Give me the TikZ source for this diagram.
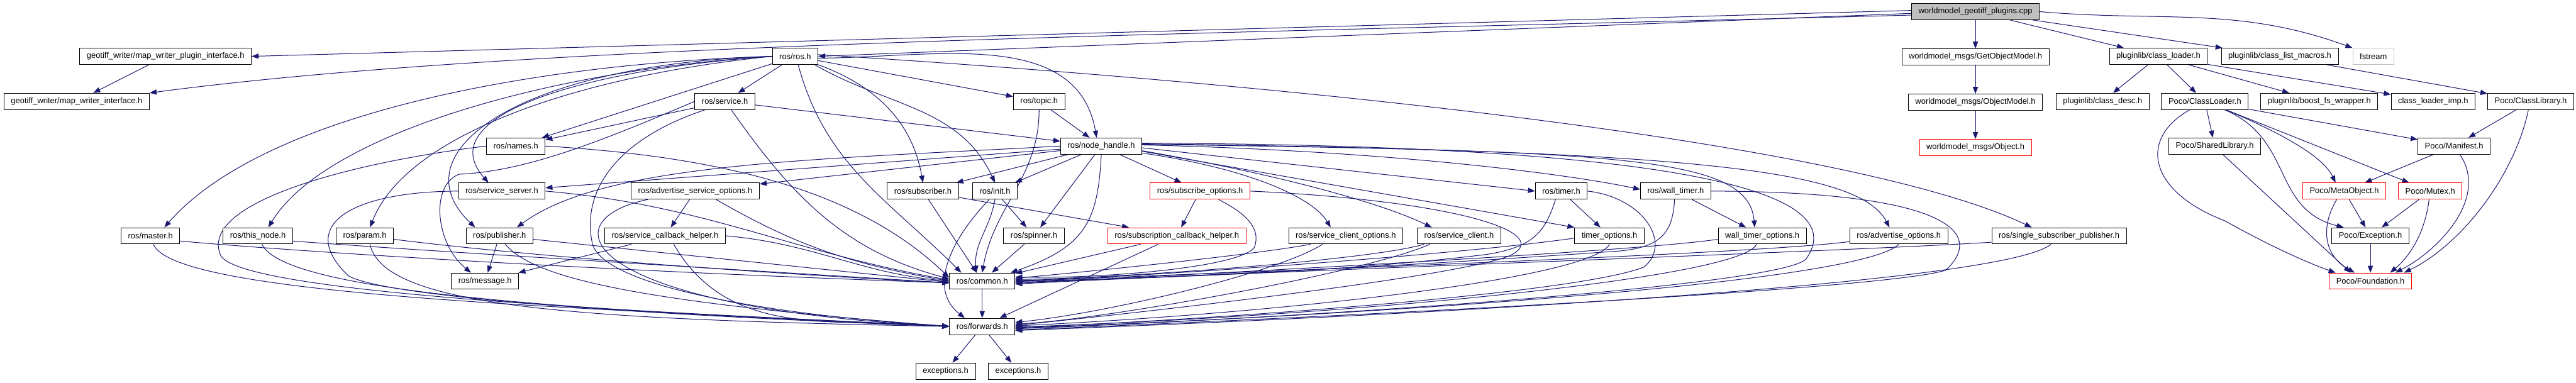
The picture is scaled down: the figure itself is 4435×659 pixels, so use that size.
\documentclass[tikz,border=0pt]{standalone}
\usepackage{fontspec}
\setmainfont{Liberation Sans}
\usepackage{tikz}
\usetikzlibrary{positioning,arrows.meta,backgrounds}
\definecolor{edgeblue}{HTML}{191970}

\begin{document}
\begin{tikzpicture}[
  x=1pt, y=-1pt,
  >={Triangle[length=12pt,width=9pt]},
  node distance=49pt,
  file/.style={rectangle, draw=black, line width=1pt, fill=white, minimum height=28pt, inner xsep=12pt, inner ysep=0pt, font=\fontsize{14}{16}\selectfont},
  hot/.style={file, draw=red},
  src/.style={file, fill=gray!50},
  sys/.style={file, draw=gray!50},
  dep/.style={->, draw=edgeblue, line width=1.1pt}
]
\useasboundingbox (0,0) rectangle (4435,659);

\node[src] (cpp) at (3401,20) {worldmodel\_geotiff\_plugins.cpp};

\node[file] (mwpi) at (285,97) {geotiff\_writer/map\_writer\_plugin\_interface.h};
\node[file] (ros) at (1369,97) {ros/ros.h};
\node[file, below=of cpp] (gom) {worldmodel\_msgs/GetObjectModel.h};
\node[file] (pcl) at (3716,97) {pluginlib/class\_loader.h};
\node[file] (pclm) at (3925,97) {pluginlib/class\_list\_macros.h};
\node[sys] (fstream) at (4086,97) {fstream};

\node[file] (mwi) at (132,174.5) {geotiff\_writer/map\_writer\_interface.h};
\node[file] (service) at (1248,174.5) {ros/service.h};
\node[file] (topic) at (1789,174.5) {ros/topic.h};
\node[file, below=of gom] (om) {worldmodel\_msgs/ObjectModel.h};
\node[file] (desc) at (3620,174.5) {pluginlib/class\_desc.h};
\node[file] (pcload) at (3796,174.5) {Poco/ClassLoader.h};
\node[file] (bfs) at (3993,174.5) {pluginlib/boost\_fs\_wrapper.h};
\node[file] (imp) at (4189,174.5) {class\_loader\_imp.h};
\node[file] (plib) at (4357,174.5) {Poco/ClassLibrary.h};

\node[file] (names) at (888,251.5) {ros/names.h};
\node[file] (nh) at (1896,251.5) {ros/node\_handle.h};
\node[hot, below=of om] (obj) {worldmodel\_msgs/Object.h};
\node[file] (shlib) at (3813,251.5) {Poco/SharedLibrary.h};
\node[file] (manifest) at (4225,251.5) {Poco/Manifest.h};

\node[file] (srvserver) at (864,329) {ros/service\_server.h};
\node[file] (aso) at (1197,329) {ros/advertise\_service\_options.h};
\node[file] (subscriber) at (1589,329) {ros/subscriber.h};
\node[file] (init) at (1713,329) {ros/init.h};
\node[hot] (subopt) at (2066,329) {ros/subscribe\_options.h};
\node[file] (timer) at (2688,329) {ros/timer.h};
\node[file] (walltimer) at (2885,329) {ros/wall\_timer.h};
\node[hot] (meta) at (4036,329) {Poco/MetaObject.h};
\node[hot] (mutex) at (4184,329) {Poco/Mutex.h};

\node[file] (master) at (259,406) {ros/master.h};
\node[file] (thisnode) at (444,406) {ros/this\_node.h};
\node[file] (param) at (628,406) {ros/param.h};
\node[file] (publisher) at (860,406) {ros/publisher.h};
\node[file] (sch) at (1145,406) {ros/service\_callback\_helper.h};
\node[file] (spinner) at (1780,406) {ros/spinner.h};
\node[hot] (subcbh) at (2026,406) {ros/subscription\_callback\_helper.h};
\node[file] (sco) at (2317,406) {ros/service\_client\_options.h};
\node[file] (sclient) at (2512,406) {ros/service\_client.h};
\node[file] (timeropt) at (2771,406) {timer\_options.h};
\node[file] (wallopt) at (3034,406) {wall\_timer\_options.h};
\node[file] (advopt) at (3269,406) {ros/advertise\_options.h};
\node[file] (ssp) at (3545,406) {ros/single\_subscriber\_publisher.h};
\node[file] (exception) at (4081,406) {Poco/Exception.h};

\node[file] (message) at (835,484) {ros/message.h};
\node[file] (common) at (1691,484) {ros/common.h};
\node[hot, below=of exception] (foundation) {Poco/Foundation.h};

\node[file, below=of common] (forwards) {ros/forwards.h};

\node[file] (exca) at (1628,639) {exceptions.h};
\node[file] (excb) at (1753,639) {exceptions.h};

\begin{scope}[on background layer]
\draw[dep] ([yshift=2pt]cpp.west) -- (mwpi.east);
\draw[dep] ([yshift=-6pt]cpp.west) .. controls (2000,60) and (900,75) .. (mwi.north east);
\draw[dep] ([yshift=-3pt]cpp.west) -- (ros.east);
\draw[dep] (cpp) -- (gom);
\draw[dep] (cpp) -- (pcl);
\draw[dep] (cpp) -- (pclm);
\draw[dep] (cpp.east) to[out=-5,in=160] (fstream.north west);
\draw[dep] (mwpi) -- (mwi);
\draw[dep] (gom) -- (om);
\draw[dep] (om) -- (obj);

\draw[dep] (ros) -- (service);
\draw[dep] (ros) -- (names);
\draw[dep] (ros) -- (topic);
\draw[dep] ([yshift=-3pt]ros.east) to[out=0,in=100] ([xshift=-8pt]nh.north);
\draw[dep] (ros.south east) to[out=-20,in=100] (subscriber.north);
\draw[dep] ([xshift=-6pt]ros.south east) to[out=-30,in=115] (init.north);
\draw[dep] (ros.290) to[out=-75,in=135] ([xshift=-36pt]common.north);
\draw[dep] (ros.west) .. controls (900,110) and (680,260) .. ([xshift=-42pt]publisher.north);
\draw[dep] (ros.west) .. controls (1000,120) and (740,200) .. ([xshift=-23pt]srvserver.north);
\draw[dep] (ros.west) .. controls (900,110) and (450,200) .. ([xshift=24pt]master.north);
\draw[dep] (ros.west) .. controls (950,120) and (560,230) .. ([xshift=18pt]thisnode.north);
\draw[dep] (ros.west) .. controls (1000,130) and (700,230) .. ([xshift=9pt]param.north);
\draw[dep] ([yshift=3pt]ros.east) .. controls (2300,150) and (3200,250) .. ([xshift=-47pt]ssp.north);

\draw[dep] (service) -- (names);
\draw[dep] (service) -- (nh);
\draw[dep] ([xshift=11pt]service.south) to[out=-55,in=165] ([yshift=4pt]common.west);
\draw[dep] ([xshift=-34pt]service.south) .. controls (1060,240) and (1000,330) .. (1020,420) .. controls (1040,490) and (1300,540) .. (forwards.west);
\draw[dep] (service.west) .. controls (1020,250) and (900,295) .. (790,300) .. controls (740,320) and (750,420) .. ([xshift=-24pt]message.north);

\draw[dep] (topic) -- (nh);
\draw[dep] (topic.south) to[out=-90,in=80] (common.north);

\draw[dep] (names.east) .. controls (1250,270) and (1480,330) .. ([yshift=6pt]common.west);
\draw[dep] (names.west) .. controls (600,280) and (340,350) .. (380,440) .. controls (420,510) and (1200,540) .. (forwards.west);

\draw[dep] (srvserver.east) to[out=-5,in=170] ([yshift=2pt]common.west);
\draw[dep] (srvserver.west) .. controls (600,330) and (510,390) .. (600,475) .. controls (680,520) and (1300,550) .. (forwards.west);

\draw[dep] (aso) -- (sch);
\draw[dep] ([xshift=36pt]aso.south) to[out=-30,in=170] (common.west);
\draw[dep] ([xshift=-82pt]aso.south) .. controls (940,380) and (1000,530) .. (forwards.west);

\draw[dep] (sch) -- (message);
\draw[dep] (sch.east) to[out=-5,in=175] (common.west);
\draw[dep] ([xshift=15pt]sch.south) to[out=-60,in=175] (forwards.west);

\draw[dep] (publisher) -- (message);
\draw[dep] ([yshift=-6pt]publisher.east) -- ([yshift=-2pt]common.west);
\draw[dep] ([xshift=10pt]publisher.south) .. controls (920,480) and (1100,520) .. (forwards.west);

\draw[dep] ([yshift=-9pt]master.east) .. controls (500,432) and (1000,465) .. ([yshift=-3pt]common.west);
\draw[dep] ([xshift=5pt]master.south) .. controls (300,510) and (1000,530) .. (forwards.west);
\draw[dep] ([yshift=-9pt]thisnode.east) .. controls (700,430) and (1200,460) .. ([yshift=-3pt]common.west);
\draw[dep] ([xshift=7pt]thisnode.south) .. controls (490,505) and (1000,535) .. (forwards.west);
\draw[dep] ([yshift=-6pt]param.east) .. controls (900,440) and (1300,470) .. ([yshift=-3pt]common.west);
\draw[dep] ([xshift=9pt]param.south) .. controls (660,530) and (1000,550) .. (forwards.west);

\draw[dep] (init) -- (spinner);
\draw[dep] (init.south) to[out=-100,in=95] ([xshift=-10pt]common.north);
\draw[dep] ([xshift=-10pt]init.south) .. controls (1630,420) and (1600,500) .. ([xshift=-30pt]forwards.north);

\draw[dep] (subscriber) -- (common);
\draw[dep] (subscriber) -- (subcbh);
\draw[dep] (spinner) -- (common);

\draw[dep] (nh) -- (spinner);
\draw[dep] (nh) -- (init);
\draw[dep] (nh) -- (subscriber);
\draw[dep] (nh) -- (subopt);
\draw[dep] (nh) -- (aso);
\draw[dep] (nh) -- (srvserver);
\draw[dep] (nh.west) .. controls (1400,275) and (1040,280) .. ([xshift=30pt]publisher.north);
\draw[dep] (nh.south) .. controls (1890,380) and (1870,425) .. ([xshift=-8pt]common.north east);
\draw[dep] ([yshift=-3pt]nh.east) -- (timer.west);
\draw[dep] ([yshift=2pt]nh.east) .. controls (2400,260) and (2700,300) .. ([yshift=3pt]walltimer.west);
\draw[dep] ([yshift=-9pt]nh.east) -- (timeropt.north west);
\draw[dep] ([yshift=-8pt]nh.east) .. controls (2200,300) and (2380,350) .. ([xshift=-47pt]sclient.north);
\draw[dep] ([yshift=-12pt]nh.east) .. controls (2150,290) and (2260,340) .. ([xshift=-26pt]sco.north);
\draw[dep] ([yshift=3pt]nh.east) .. controls (2800,260) and (3010,270) .. ([xshift=-13pt]wallopt.north);
\draw[dep] ([yshift=4pt]nh.east) .. controls (2900,260) and (3200,290) .. ([xshift=-16pt]advopt.north);
\draw[dep] ([yshift=5pt]nh.east) .. controls (2900,250) and (3190,330) .. (3110,445) .. controls (3080,490) and (2300,545) .. ([yshift=-4pt]forwards.east);

\draw[dep] (timer) -- (timeropt);
\draw[dep] ([xshift=-10pt]timer.south) .. controls (2660,400) and (2640,425) .. (2560,438) .. controls (2300,470) and (1950,480) .. (common.east);
\draw[dep] (timer.east) .. controls (2830,340) and (2880,420) .. (2830,460) .. controls (2700,510) and (2000,555) .. ([yshift=-2pt]forwards.east);

\draw[dep] (walltimer) -- (wallopt);
\draw[dep] ([xshift=-2pt]walltimer.south) .. controls (2880,400) and (2860,425) .. (2790,432) .. controls (2400,460) and (2000,478) .. ([yshift=-2pt]common.east);
\draw[dep] (walltimer.east) .. controls (3350,330) and (3420,400) .. (3350,465) .. controls (3250,500) and (2200,550) .. ([yshift=-6pt]forwards.east);

\draw[dep] ([yshift=-4pt]timeropt.west) .. controls (2500,440) and (1950,478) .. ([yshift=1pt]common.east);
\draw[dep] (timeropt.south) .. controls (2740,480) and (2200,540) .. ([yshift=1pt]forwards.east);
\draw[dep] ([yshift=-6pt]wallopt.west) .. controls (2800,435) and (2000,475) .. ([yshift=-4pt]common.east);
\draw[dep] ([xshift=-10pt]wallopt.south) .. controls (3000,480) and (2300,545) .. ([yshift=-1pt]forwards.east);
\draw[dep] ([yshift=-10pt]advopt.west) .. controls (3000,440) and (2000,472) .. ([yshift=-1pt]common.east);
\draw[dep] (advopt.south) .. controls (3200,490) and (2300,545) .. ([yshift=-3pt]forwards.east);
\draw[dep] ([yshift=-11pt]ssp.west) .. controls (3200,432) and (2100,470) .. ([yshift=-5pt]common.east);
\draw[dep] ([xshift=-14pt]ssp.south) .. controls (3450,490) and (2400,545) .. ([yshift=-7pt]forwards.east);
\draw[dep] ([xshift=-60pt]sclient.south) .. controls (2350,450) and (1900,480) .. ([yshift=3pt]common.east);
\draw[dep] ([xshift=-50pt]sclient.south) .. controls (2350,470) and (1900,550) .. ([yshift=4pt]forwards.east);
\draw[dep] ([xshift=-60pt]sco.south) .. controls (2150,440) and (1850,470) .. ([yshift=5pt]common.east);
\draw[dep] ([xshift=-40pt]sco.south) .. controls (2200,470) and (1900,540) .. ([yshift=7pt]forwards.east);

\draw[dep] (subopt) -- (subcbh);
\draw[dep] ([xshift=32pt]subopt.south) .. controls (2150,370) and (2170,395) .. (2160,425) .. controls (2140,460) and (1900,480) .. ([yshift=7pt]common.east);
\draw[dep] (subopt.east) .. controls (2500,345) and (2680,400) .. (2600,440) .. controls (2500,480) and (1900,545) .. ([yshift=2pt]forwards.east);
\draw[dep] (subcbh) -- (common);
\draw[dep] ([xshift=-32pt]subcbh.south) -- ([xshift=30pt]forwards.north);

\draw[dep] (common) -- (forwards);
\draw[dep] (forwards) -- (exca);
\draw[dep] (forwards) -- (excb);

\draw[dep] (pcl) -- (desc);
\draw[dep] (pcl) -- (pcload);
\draw[dep] (pcl) -- (bfs);
\draw[dep] (pcl) -- (imp);
\draw[dep] (pclm) -- (plib);
\draw[dep] (pcload) -- (shlib);
\draw[dep] (pcload) -- (manifest);
\draw[dep] (pcload) -- (mutex);
\draw[dep] ([xshift=36pt]pcload.south) .. controls (3930,230) and (4000,270) .. ([xshift=-15pt]meta.north);
\draw[dep] ([xshift=34pt]pcload.south) .. controls (3950,240) and (3910,360) .. ([xshift=-46pt]exception.north);
\draw[dep] ([xshift=-26pt]pcload.south) .. controls (3680,240) and (3700,330) .. (3830,380) .. controls (3920,430) and (3980,455) .. ([xshift=-60pt]foundation.north);
\draw[dep] ([xshift=14pt]shlib.south) -- ([xshift=-34pt]foundation.north);
\draw[dep] (plib) -- (manifest);
\draw[dep] ([xshift=-4pt]plib.south) .. controls (4330,300) and (4240,420) .. ([xshift=58pt]foundation.north);
\draw[dep] (manifest) -- (meta);
\draw[dep] ([xshift=10pt]manifest.south) .. controls (4285,340) and (4200,430) .. ([xshift=43pt]foundation.north);
\draw[dep] (meta) -- (exception);
\draw[dep] ([xshift=-13pt]meta.south) .. controls (3995,390) and (4000,440) .. ([xshift=-27pt]foundation.north);
\draw[dep] (mutex) -- (exception);
\draw[dep] ([xshift=-2pt]mutex.south) .. controls (4175,400) and (4150,440) .. ([xshift=34pt]foundation.north);
\draw[dep] (exception) -- (foundation);
\end{scope}
\end{tikzpicture}
\end{document}
